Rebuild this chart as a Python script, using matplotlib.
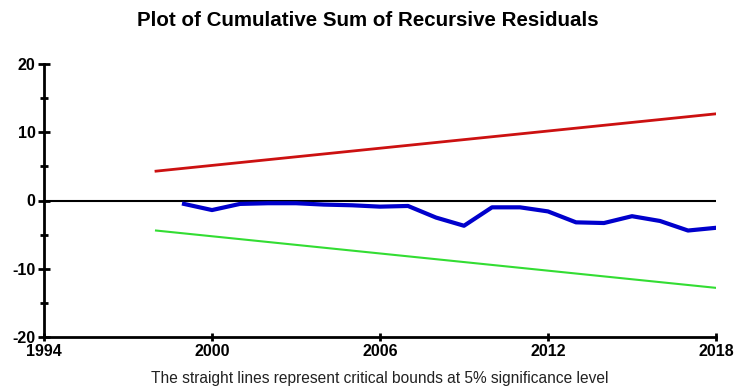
import matplotlib.pyplot as plt
from matplotlib.ticker import MultipleLocator

plt.rcParams['axes.unicode_minus'] = False

years = list(range(1999, 2019))
cusum = [-0.5, -1.4, -0.5, -0.4, -0.4, -0.6, -0.7, -0.9, -0.8, -2.5,
         -3.7, -1.0, -1.0, -1.6, -3.2, -3.3, -2.3, -3.0, -4.4, -4.0]

bound_years = [1998, 2018]
upper_bound = [4.3, 12.7]
lower_bound = [-4.4, -12.8]

fig = plt.figure(figsize=(7.35, 3.92), dpi=100)
ax = fig.add_axes([44 / 735, 1 - 337 / 392, (716 - 44) / 735, (337 - 64) / 392])

ax.plot(bound_years, upper_bound, color='#CC1111', linewidth=2)
ax.plot(bound_years, lower_bound, color='#33DD33', linewidth=1.5)
ax.axhline(0, color='black', linewidth=1.5)
ax.plot(years, cusum, color='#0000CC', linewidth=3, solid_joinstyle='round')

ax.set_xlim(1994, 2018)
ax.set_ylim(-20, 20)
ax.set_xticks([1994, 2000, 2006, 2012, 2018])
ax.set_yticks([-20, -10, 0, 10, 20])
ax.yaxis.set_minor_locator(MultipleLocator(5))

for side in ('top', 'right'):
    ax.spines[side].set_visible(False)
for side in ('left', 'bottom'):
    ax.spines[side].set_linewidth(2)

ax.tick_params(axis='both', which='both', direction='inout', width=2, color='black')
ax.tick_params(axis='y', which='major', length=8, pad=2)
ax.tick_params(axis='y', which='minor', length=6)
ax.tick_params(axis='x', which='major', length=6, pad=2)
for lab in ax.get_xticklabels() + ax.get_yticklabels():
    lab.set_fontsize(11.5)
    lab.set_fontweight('bold')
    lab.set_family('Liberation Sans')

fig.text(0.5, 1 - 20 / 392, 'Plot of Cumulative Sum of Recursive Residuals',
         ha='center', va='center', fontsize=14.8, fontweight='bold',
         family='Liberation Sans')
fig.text(380 / 735, 1 - 378 / 392,
         'The straight lines represent critical bounds at 5% significance level',
         ha='center', va='center', fontsize=11.2, color='#222222',
         family='Liberation Sans')

fig.savefig('out.png', dpi=100)
